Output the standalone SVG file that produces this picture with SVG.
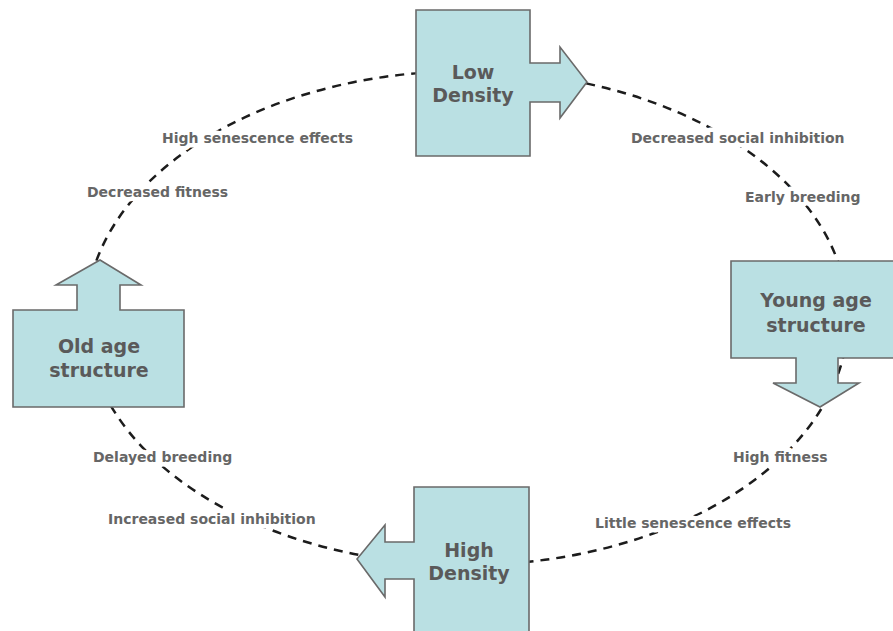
<svg xmlns="http://www.w3.org/2000/svg" width="893" height="631" viewBox="0 0 893 631">
<defs>
<style>
.node{fill:#bae0e3;stroke:#6a6a6a;stroke-width:1.6;stroke-linejoin:miter}
.title{font-family:"DejaVu Sans",sans-serif;font-weight:bold;font-size:19px;fill:#5a5a5a;text-anchor:middle}
.lbl{font-family:"DejaVu Sans",sans-serif;font-weight:bold;font-size:14px;fill:#666666;stroke:#ffffff;stroke-width:9;paint-order:stroke;stroke-linejoin:round}
.cycle{fill:none;stroke:#1c1c1c;stroke-width:2.5;stroke-dasharray:9 7}
</style>
</defs>
<rect width="893" height="631" fill="#ffffff"/>
<g id="connectors">
<ellipse class="cycle" cx="467" cy="318" rx="381" ry="247"/>
</g>
<g id="labels">
<text class="lbl" x="162" y="143">High senescence effects</text>
<text class="lbl" x="87" y="197">Decreased fitness</text>
<text class="lbl" x="631" y="143">Decreased social inhibition</text>
<text class="lbl" x="745" y="202">Early breeding</text>
<text class="lbl" x="93" y="462">Delayed breeding</text>
<text class="lbl" x="108" y="524">Increased social inhibition</text>
<text class="lbl" x="733" y="462">High fitness</text>
<text class="lbl" x="595" y="528">Little senescence effects</text>
</g>
<g id="low-density">
<path class="node" d="M416,10 H530 V63 H560 V47 L587,82 L560,118 V102 H530 V156 H416 Z"/>
<text class="title" x="473" y="79">Low</text>
<text class="title" x="473" y="102">Density</text>
</g>
<g id="young-age-structure">
<path class="node" d="M731,261 H896 V358 H838 V383 H859 L820,407 L773,383 H796 V358 H731 Z"/>
<text class="title" x="816" y="307">Young age</text>
<text class="title" x="816" y="332">structure</text>
</g>
<g id="high-density">
<path class="node" d="M414,487 H529 V640 H414 V579 H385 V597 L357,559 L385,525 V542 H414 Z"/>
<text class="title" x="469" y="557">High</text>
<text class="title" x="469" y="580">Density</text>
</g>
<g id="old-age-structure">
<path class="node" d="M13,310 H77 V285 H56 L100,260 L141,285 H120 V310 H184 V407 H13 Z"/>
<text class="title" x="99" y="353">Old age</text>
<text class="title" x="99" y="377">structure</text>
</g>
</svg>
